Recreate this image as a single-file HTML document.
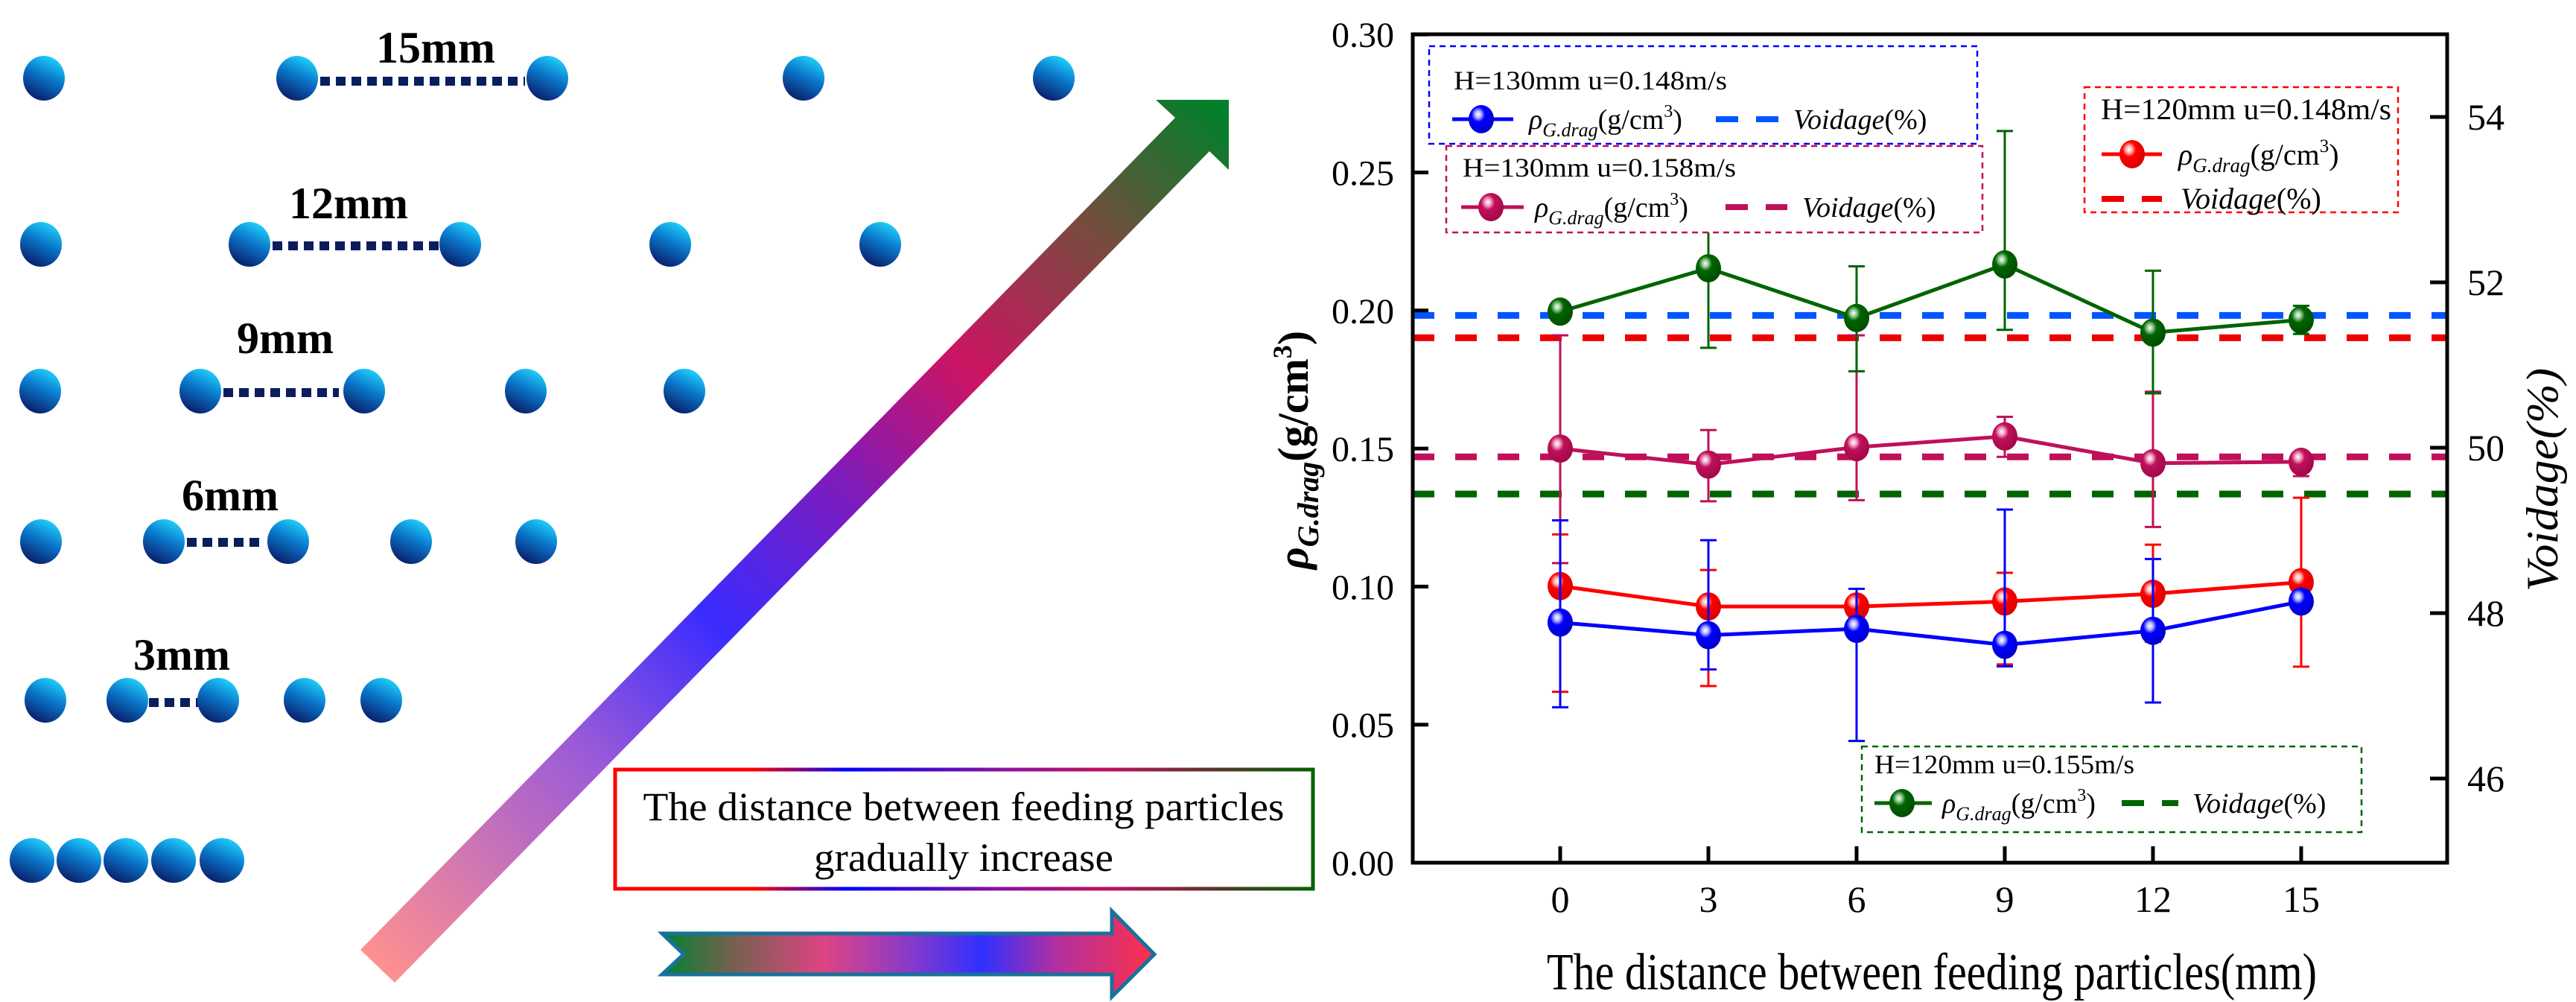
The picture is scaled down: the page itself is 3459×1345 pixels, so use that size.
<!DOCTYPE html>
<html><head><meta charset="utf-8"><style>
html,body{margin:0;padding:0;background:#fff;}
svg{display:block;font-family:"Liberation Serif",serif;}
svg text{font-family:"Liberation Serif",serif;}
</style></head><body>
<svg id="fig" width="3459" height="1345" viewBox="0 0 3459 1345" xmlns="http://www.w3.org/2000/svg" font-family="Liberation Serif, serif">
<defs>
  <linearGradient id="ball" x1="0.75" y1="0" x2="0.3" y2="1">
    <stop offset="0" stop-color="#22d8ff"/><stop offset="0.45" stop-color="#0a78cc"/><stop offset="1" stop-color="#0a1a66"/>
  </linearGradient>
  <linearGradient id="diag" gradientUnits="userSpaceOnUse" x1="507" y1="1297" x2="1640" y2="150">
    <stop offset="0" stop-color="#ff9090"/><stop offset="0.25" stop-color="#9a5ad8"/><stop offset="0.4" stop-color="#3a2cff"/><stop offset="0.55" stop-color="#7a1cc0"/><stop offset="0.7" stop-color="#cc1462"/><stop offset="0.85" stop-color="#7a4a40"/><stop offset="1" stop-color="#00802a"/>
  </linearGradient>
  <linearGradient id="harrow" gradientUnits="userSpaceOnUse" x1="889" y1="0" x2="1550" y2="0">
    <stop offset="0" stop-color="#008030"/><stop offset="0.15" stop-color="#7a6050"/><stop offset="0.33" stop-color="#dd4484"/><stop offset="0.5" stop-color="#8a3ac8"/><stop offset="0.65" stop-color="#3030ff"/><stop offset="0.8" stop-color="#b030a0"/><stop offset="1" stop-color="#ff3048"/>
  </linearGradient>
  <linearGradient id="boxgrad" gradientUnits="userSpaceOnUse" x1="824" y1="0" x2="1765" y2="0">
    <stop offset="0" stop-color="#ff0000"/><stop offset="0.2" stop-color="#ff0000"/><stop offset="0.33" stop-color="#0000ff"/><stop offset="0.55" stop-color="#8a10a0"/><stop offset="0.7" stop-color="#c01060"/><stop offset="0.88" stop-color="#4a3a20"/><stop offset="1" stop-color="#006400"/>
  </linearGradient>
  <radialGradient id="mk-blue" cx="0.38" cy="0.33" r="0.7"><stop offset="0" stop-color="#fff"/><stop offset="0.18" stop-color="#b0b0ff"/><stop offset="0.38" stop-color="#0000ff"/><stop offset="1" stop-color="#0000c8"/></radialGradient>
  <radialGradient id="mk-red" cx="0.38" cy="0.33" r="0.7"><stop offset="0" stop-color="#fff"/><stop offset="0.18" stop-color="#ffb0b0"/><stop offset="0.38" stop-color="#ff0000"/><stop offset="1" stop-color="#d80000"/></radialGradient>
  <radialGradient id="mk-purple" cx="0.38" cy="0.33" r="0.7"><stop offset="0" stop-color="#fff"/><stop offset="0.18" stop-color="#f0a0c4"/><stop offset="0.38" stop-color="#c0105a"/><stop offset="1" stop-color="#a00848"/></radialGradient>
  <radialGradient id="mk-green" cx="0.38" cy="0.33" r="0.7"><stop offset="0" stop-color="#fff"/><stop offset="0.18" stop-color="#90c890"/><stop offset="0.38" stop-color="#006400"/><stop offset="1" stop-color="#004c00"/></radialGradient>
</defs>

<g id="schematic">
  <g>
    <line x1="430" y1="109" x2="705" y2="109" stroke="#0a1e5e" stroke-width="12" stroke-dasharray="13 8"/>
    <text x="585" y="84" font-size="60" font-weight="bold" text-anchor="middle">15mm</text>
    <ellipse cx="59" cy="105" rx="28" ry="30" fill="url(#ball)"/><ellipse cx="399" cy="105" rx="28" ry="30" fill="url(#ball)"/><ellipse cx="735" cy="105" rx="28" ry="30" fill="url(#ball)"/><ellipse cx="1079" cy="105" rx="28" ry="30" fill="url(#ball)"/><ellipse cx="1415" cy="105" rx="28" ry="30" fill="url(#ball)"/>
  </g>
  <g>
    <line x1="366" y1="330" x2="591" y2="330" stroke="#0a1e5e" stroke-width="12" stroke-dasharray="13 8"/>
    <text x="468" y="293" font-size="60" font-weight="bold" text-anchor="middle">12mm</text>
    <ellipse cx="55" cy="328" rx="28" ry="30" fill="url(#ball)"/><ellipse cx="335" cy="328" rx="28" ry="30" fill="url(#ball)"/><ellipse cx="618" cy="328" rx="28" ry="30" fill="url(#ball)"/><ellipse cx="900" cy="328" rx="28" ry="30" fill="url(#ball)"/><ellipse cx="1182" cy="328" rx="28" ry="30" fill="url(#ball)"/>
  </g>
  <g>
    <line x1="300" y1="527" x2="455" y2="527" stroke="#0a1e5e" stroke-width="12" stroke-dasharray="13 8"/>
    <text x="383" y="474" font-size="60" font-weight="bold" text-anchor="middle">9mm</text>
    <ellipse cx="54" cy="525" rx="28" ry="30" fill="url(#ball)"/><ellipse cx="269" cy="525" rx="28" ry="30" fill="url(#ball)"/><ellipse cx="489" cy="525" rx="28" ry="30" fill="url(#ball)"/><ellipse cx="706" cy="525" rx="28" ry="30" fill="url(#ball)"/><ellipse cx="919" cy="525" rx="28" ry="30" fill="url(#ball)"/>
  </g>
  <g>
    <line x1="251" y1="728" x2="356" y2="728" stroke="#0a1e5e" stroke-width="12" stroke-dasharray="13 8"/>
    <text x="309" y="685" font-size="60" font-weight="bold" text-anchor="middle">6mm</text>
    <ellipse cx="55" cy="727" rx="28" ry="30" fill="url(#ball)"/><ellipse cx="220" cy="727" rx="28" ry="30" fill="url(#ball)"/><ellipse cx="387" cy="727" rx="28" ry="30" fill="url(#ball)"/><ellipse cx="552" cy="727" rx="28" ry="30" fill="url(#ball)"/><ellipse cx="720" cy="727" rx="28" ry="30" fill="url(#ball)"/>
  </g>
  <g>
    <line x1="200" y1="943" x2="266" y2="943" stroke="#0a1e5e" stroke-width="12" stroke-dasharray="13 8"/>
    <text x="244" y="899" font-size="60" font-weight="bold" text-anchor="middle">3mm</text>
    <ellipse cx="61" cy="940" rx="28" ry="30" fill="url(#ball)"/><ellipse cx="171" cy="940" rx="28" ry="30" fill="url(#ball)"/><ellipse cx="293" cy="940" rx="28" ry="30" fill="url(#ball)"/><ellipse cx="409" cy="940" rx="28" ry="30" fill="url(#ball)"/><ellipse cx="512" cy="940" rx="28" ry="30" fill="url(#ball)"/>
  </g>
  <g>
    <ellipse cx="43" cy="1155" rx="30" ry="30" fill="url(#ball)"/><ellipse cx="106" cy="1155" rx="30" ry="30" fill="url(#ball)"/><ellipse cx="169" cy="1155" rx="30" ry="30" fill="url(#ball)"/><ellipse cx="233" cy="1155" rx="30" ry="30" fill="url(#ball)"/><ellipse cx="298" cy="1155" rx="30" ry="30" fill="url(#ball)"/>
  </g>
  <polygon points="484,1275 1578,158 1552,134 1650,134 1650,228 1624,203 530,1319" fill="url(#diag)"/>
  <g>
    <rect x="826" y="1033" width="937" height="160" fill="#fff" stroke="url(#boxgrad)" stroke-width="5"/>
    <text x="1294" y="1101" font-size="54" text-anchor="middle" textLength="861" lengthAdjust="spacingAndGlyphs">The distance between feeding particles</text>
    <text x="1294" y="1169" font-size="54" text-anchor="middle" textLength="402" lengthAdjust="spacingAndGlyphs">gradually increase</text>
  </g>
  <polygon points="889,1253 1493,1253 1493,1223 1550,1281 1493,1338 1493,1308 889,1308 918,1281" fill="url(#harrow)" stroke="#17729a" stroke-width="5"/>
</g>

<g id="chart">
  <g id="dashes"></g>
  <g id="series"></g>
  <rect x="1897" y="46" width="1389" height="1112" fill="none" stroke="#000" stroke-width="5"/>
  <g id="axes"></g>
  <text x="2594" y="1328" font-size="70" text-anchor="middle" textLength="1034" lengthAdjust="spacingAndGlyphs">The distance between feeding particles(mm)</text>
  <text transform="translate(1756,604) rotate(-90)" font-size="58" font-weight="bold" text-anchor="middle"><tspan font-style="italic">ρ</tspan><tspan font-style="italic" font-size="40" dy="14">G.drag</tspan><tspan dy="-14">(g/cm</tspan><tspan font-size="36" dy="-22">3</tspan><tspan dy="22">)</tspan></text>
  <text transform="translate(3434,644) rotate(-90)" font-size="60" font-style="italic" text-anchor="middle" textLength="300" lengthAdjust="spacingAndGlyphs">Voidage(%)</text>

  <g id="legends">
    <g>
      <rect x="1919" y="62" width="736" height="131" fill="#fff" stroke="#0000ff" stroke-width="2.5" stroke-dasharray="8 6"/>
      <text x="1952" y="120" font-size="36" textLength="367" lengthAdjust="spacingAndGlyphs">H=130mm u=0.148m/s</text>
      <line x1="1950" y1="160" x2="2032" y2="160" stroke="#0000ff" stroke-width="5"/>
      <ellipse cx="1989" cy="160" rx="17" ry="19" fill="url(#mk-blue)"/>
      <text x="2053" y="173" font-size="38"><tspan font-style="italic">ρ</tspan><tspan font-style="italic" font-size="26" dy="10">G.drag</tspan><tspan dy="-10">(g/cm</tspan><tspan font-size="24" dy="-16">3</tspan><tspan dy="16">)</tspan></text>
      <line x1="2304" y1="160" x2="2388" y2="160" stroke="#0055ff" stroke-width="8" stroke-dasharray="30 24"/>
      <text x="2408" y="173" font-size="38" font-style="italic">Voidage<tspan font-style="normal">(%)</tspan></text>
    </g>
    <g>
      <rect x="1942" y="196" width="720" height="116" fill="#fff" stroke="#c0105a" stroke-width="2.5" stroke-dasharray="8 6"/>
      <text x="1964" y="237" font-size="36" textLength="367" lengthAdjust="spacingAndGlyphs">H=130mm u=0.158m/s</text>
      <line x1="1962" y1="278" x2="2046" y2="278" stroke="#c0105a" stroke-width="5"/>
      <ellipse cx="2002" cy="278" rx="17" ry="19" fill="url(#mk-purple)"/>
      <text x="2061" y="291" font-size="38"><tspan font-style="italic">ρ</tspan><tspan font-style="italic" font-size="26" dy="10">G.drag</tspan><tspan dy="-10">(g/cm</tspan><tspan font-size="24" dy="-16">3</tspan><tspan dy="16">)</tspan></text>
      <line x1="2317" y1="278" x2="2400" y2="278" stroke="#c0105a" stroke-width="8" stroke-dasharray="30 24"/>
      <text x="2420" y="291" font-size="38" font-style="italic">Voidage<tspan font-style="normal">(%)</tspan></text>
    </g>
    <g>
      <rect x="2799" y="117" width="421" height="168" fill="#fff" stroke="#ff0000" stroke-width="2.5" stroke-dasharray="8 6"/>
      <text x="2821" y="160" font-size="40" textLength="390" lengthAdjust="spacingAndGlyphs">H=120mm u=0.148m/s</text>
      <line x1="2822" y1="207" x2="2903" y2="207" stroke="#ff0000" stroke-width="5"/>
      <ellipse cx="2863" cy="207" rx="17" ry="19" fill="url(#mk-red)"/>
      <text x="2925" y="221" font-size="40"><tspan font-style="italic">ρ</tspan><tspan font-style="italic" font-size="27" dy="10">G.drag</tspan><tspan dy="-10">(g/cm</tspan><tspan font-size="25" dy="-17">3</tspan><tspan dy="17">)</tspan></text>
      <line x1="2822" y1="267" x2="2903" y2="267" stroke="#ee0000" stroke-width="8" stroke-dasharray="30 24"/>
      <text x="2928" y="280" font-size="40" font-style="italic">Voidage<tspan font-style="normal">(%)</tspan></text>
    </g>
    <g>
      <rect x="2500" y="1002" width="671" height="115" fill="#fff" stroke="#006400" stroke-width="2.5" stroke-dasharray="8 6"/>
      <text x="2517" y="1038" font-size="36" textLength="349" lengthAdjust="spacingAndGlyphs">H=120mm u=0.155m/s</text>
      <line x1="2517" y1="1078" x2="2594" y2="1078" stroke="#006400" stroke-width="5"/>
      <ellipse cx="2554" cy="1078" rx="17" ry="19" fill="url(#mk-green)"/>
      <text x="2608" y="1091" font-size="38"><tspan font-style="italic">ρ</tspan><tspan font-style="italic" font-size="26" dy="10">G.drag</tspan><tspan dy="-10">(g/cm</tspan><tspan font-size="24" dy="-16">3</tspan><tspan dy="16">)</tspan></text>
      <line x1="2849" y1="1078" x2="2925" y2="1078" stroke="#006400" stroke-width="8" stroke-dasharray="30 24"/>
      <text x="2944" y="1091" font-size="38" font-style="italic">Voidage<tspan font-style="normal">(%)</tspan></text>
    </g>
  </g>
</g>
</svg>
<script>
const categories = [0, 3, 6, 9, 12, 15];
const yTicks = ["0.00","0.05","0.10","0.15","0.20","0.25","0.30"];
const yTickValues = [0, 0.05, 0.10, 0.15, 0.20, 0.25, 0.30];
const rightTicks = [46, 48, 50, 52, 54];
const blueVals = [0.087, 0.0824, 0.0847, 0.0789, 0.084, 0.0946];
const blueHi = [0.124, 0.1168, 0.0992, 0.1279, 0.110, 0.097];
const blueLo = [0.0563, 0.070, 0.0441, 0.0711, 0.058, 0.092];
const redVals = [0.1002, 0.0928, 0.0928, 0.0946, 0.0974, 0.1016];
const redHi = [0.1189, 0.106, 0.096, 0.105, 0.1152, 0.1322];
const redLo = [0.0619, 0.064, 0.089, 0.0718, 0.080, 0.071];
const purpleVals = [0.150, 0.1442, 0.1505, 0.1544, 0.1447, 0.1452];
const purpleHi = [0.191, 0.1567, 0.191, 0.1615, 0.1706, 0.1485];
const purpleLo = [0.1085, 0.1309, 0.1313, 0.147, 0.1216, 0.140];
const greenVals = [0.1996, 0.2153, 0.1973, 0.2167, 0.192, 0.1966];
const greenHi = [0.202, 0.229, 0.216, 0.265, 0.2144, 0.2017];
const greenLo = [0.197, 0.1865, 0.178, 0.193, 0.170, 0.1915];
const voidageValues = [51.6, 51.33, 49.89, 49.44];
const voidageNames = ["blue", "red", "purple", "green"];

const NS = "http://www.w3.org/2000/svg";
const X0 = 1897, X1 = 3286, Y0 = 1158, Y1 = 46;
function xScale(v){ return 2095 + v * 66.33; }
function yScale(v){ return Y0 - v * 3706; }
function yRight(v){ return 157 + (54 - v) * 111; }
function mk(tag, attrs, parent){ const e = document.createElementNS(NS, tag); for (const k in attrs) e.setAttribute(k, attrs[k]); parent.appendChild(e); return e; }

const axes = document.getElementById('axes');
yTickValues.forEach((v, i) => {
  const t = mk('line', {x1: X0, y1: yScale(v), x2: X0 + 21, y2: yScale(v), stroke: '#000', 'stroke-width': 5}, axes);
  
  
  const l = mk('text', {x: 1872, y: yScale(v) + 17, 'font-size': 48, 'text-anchor': 'end', 'font-family': 'Liberation Serif, serif'}, axes);
  l.textContent = yTicks[i];
  
  
});
rightTicks.forEach(v => {
  const t = mk('line', {x1: X1 - 23, y1: yRight(v), x2: X1, y2: yRight(v), stroke: '#000', 'stroke-width': 5}, axes);
  
  
  const l = mk('text', {x: 3313, y: yRight(v) + 17, 'font-size': 50, 'font-family': 'Liberation Serif, serif'}, axes);
  l.textContent = String(v);
  
  
});
categories.forEach(c => {
  const t = mk('line', {x1: xScale(c), y1: Y0, x2: xScale(c), y2: Y0 - 22, stroke: '#000', 'stroke-width': 5}, axes);
  
  
  const l = mk('text', {x: xScale(c), y: 1224, 'font-size': 50, 'text-anchor': 'middle', 'font-family': 'Liberation Serif, serif'}, axes);
  l.textContent = String(c);
  
  
});

const dashColors = {blue: '#0055ff', red: '#ee0000', purple: '#c0105a', green: '#006400'};
const dashes = document.getElementById('dashes');
voidageValues.forEach((v, i) => {
  const d = mk('line', {x1: X0, y1: yRight(v), x2: X1, y2: yRight(v), stroke: dashColors[voidageNames[i]], 'stroke-width': 9, 'stroke-dasharray': '29 28'}, dashes);
  
  
});

const seriesG = document.getElementById('series');
function drawSeries(name, color, grad, vals, hi, lo){
  const g = mk('g', {}, seriesG);
  
  
  vals.forEach((v, i) => {
    const x = xScale(categories[i]);
    const e = mk('path', {d: `M${x},${yScale(hi[i])}V${yScale(lo[i])}M${x-11},${yScale(hi[i])}h22M${x-11},${yScale(lo[i])}h22`, stroke: color, 'stroke-width': 3, fill: 'none'}, g);
    
    
  });
  const pts = vals.map((v, i) => xScale(categories[i]) + ',' + yScale(v)).join(' ');
  const pl = mk('polyline', {points: pts, fill: 'none', stroke: color, 'stroke-width': 5}, g);
  
  
  vals.forEach((v, i) => {
    const m = mk('ellipse', {cx: xScale(categories[i]), cy: yScale(v), rx: 17, ry: 19, fill: 'url(#' + grad + ')'}, g);
    
    
  });
}
drawSeries('h130-u158', '#c0105a', 'mk-purple', purpleVals, purpleHi, purpleLo);
drawSeries('h120-u155', '#006400', 'mk-green', greenVals, greenHi, greenLo);
drawSeries('h120-u148', '#ff0000', 'mk-red', redVals, redHi, redLo);
drawSeries('h130-u148', '#0000ff', 'mk-blue', blueVals, blueHi, blueLo);
</script>
</body></html>
